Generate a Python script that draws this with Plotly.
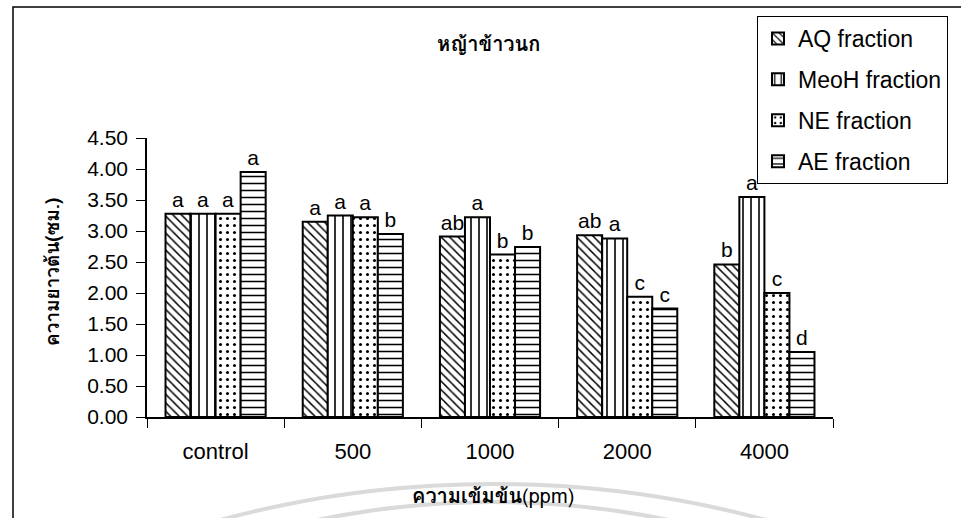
import plotly.graph_objects as go

# Shoot length (cm) of หญ้าข้าวนก under four extract fractions
categories = ["control", "500", "1000", "2000", "4000"]
series_names = ["AQ fraction", "MeoH fraction", "NE fraction", "AE fraction"]
aq = [3.28, 3.15, 2.91, 2.93, 2.46]
meoh = [3.28, 3.25, 3.22, 2.88, 3.55]
ne = [3.28, 3.22, 2.62, 1.94, 2.00]
ae = [3.95, 2.95, 2.74, 1.75, 1.05]
aq_sig = ["a", "a", "ab", "ab", "b"]
meoh_sig = ["a", "a", "a", "a", "a"]
ne_sig = ["a", "a", "b", "c", "c"]
ae_sig = ["a", "b", "b", "c", "d"]

values = [aq, meoh, ne, ae]
letters = [aq_sig, meoh_sig, ne_sig, ae_sig]
patterns = [
    dict(shape="\\", size=6, solidity=0.25),
    dict(shape="|", size=8, solidity=0.2),
    dict(shape=".", size=7, solidity=0.15),
    dict(shape="-", size=7, solidity=0.22),
]

FONT = "Liberation Sans, Arial, sans-serif"
THAI = "Tahoma, Loma, Garuda, Norasi, Liberation Sans, sans-serif"

fig = go.Figure()
for i, (name, vals, sig, pat) in enumerate(zip(series_names, values, letters, patterns)):
    fig.add_trace(go.Bar(
        name=name,
        legendgroup=f"g{i}",
        x=categories,
        y=vals,
        text=sig,
        textposition="outside",
        textfont=dict(family=FONT, size=21, color="black"),
        cliponaxis=False,
        constraintext="none",
        marker=dict(
            color="white",
            line=dict(color="black", width=2),
            pattern=dict(fgcolor="black", bgcolor="white", fillmode="replace", **pat),
        ),
    ))

# plot-area geometry in pixels, used to place the frame and captions
L, R, T, B = 147, 128, 138, 101
W, H = 961 - L - R, 518 - T - B


def px(x):
    return (x - L) / W


def py(y):
    return (518 - B - y) / H


fig.update_layout(
    width=961,
    height=518,
    margin=dict(l=L, r=R, t=T, b=B),
    paper_bgcolor="white",
    plot_bgcolor="white",
    barmode="group",
    bargap=0.27,
    bargroupgap=0,
    font=dict(family=FONT, color="black"),
    showlegend=True,
    legend=dict(
        x=px(757), y=py(16), xanchor="left", yanchor="top",
        xref="paper", yref="paper",
        bgcolor="white", bordercolor="black", borderwidth=1,
        font=dict(family=FONT, size=23, color="black"),
        tracegroupgap=8,
        itemwidth=30,
    ),
    xaxis=dict(
        showline=True, linecolor="black", linewidth=1.5,
        ticks="outside", tickson="boundaries", ticklen=9, tickcolor="black",
        tickfont=dict(family=FONT, size=22, color="black"),
        ticklabelstandoff=14,
        showgrid=False,
    ),
    yaxis=dict(
        range=[0, 4.5],
        dtick=0.5,
        tickformat=".2f",
        showline=True, linecolor="black", linewidth=1.5,
        ticks="outside", ticklen=9, tickcolor="black",
        tickfont=dict(family=FONT, size=21, color="black"),
        ticklabelstandoff=4,
        showgrid=False, zeroline=False,
    ),
)

fig.add_annotation(
    text="<b>หญ้าข้าวนก</b>", xref="paper", yref="paper",
    x=px(488), y=py(44), xanchor="center", yanchor="middle", showarrow=False,
    font=dict(family=THAI, size=20, color="black"),
)
fig.add_annotation(
    text="<b>ความยาวต้น(ซม.)</b>", xref="paper", yref="paper",
    x=px(52), y=py(272), xanchor="center", yanchor="middle",
    showarrow=False, textangle=-90,
    font=dict(family=THAI, size=19, color="black"),
)
fig.add_annotation(
    text="<b>ความเข้มข้น</b>(ppm)", xref="paper", yref="paper",
    x=px(493), y=py(496), xanchor="center", yanchor="middle", showarrow=False,
    font=dict(family=THAI, size=20, color="black"),
)

# faint arcs at the bottom edge
for top, r in [(484, 1050), (502, 860)]:
    fig.add_shape(
        type="circle", xref="paper", yref="paper", layer="below",
        x0=px(493 - r), x1=px(493 + r), y0=py(top), y1=py(top + 2 * r),
        line=dict(color="#dadada", width=4),
    )
# outer frame around the whole chart
fig.add_shape(
    type="rect", xref="paper", yref="paper",
    x0=px(13), x1=px(968), y0=py(530), y1=py(7),
    line=dict(color="black", width=1.5),
)

fig.write_html("out.html")
